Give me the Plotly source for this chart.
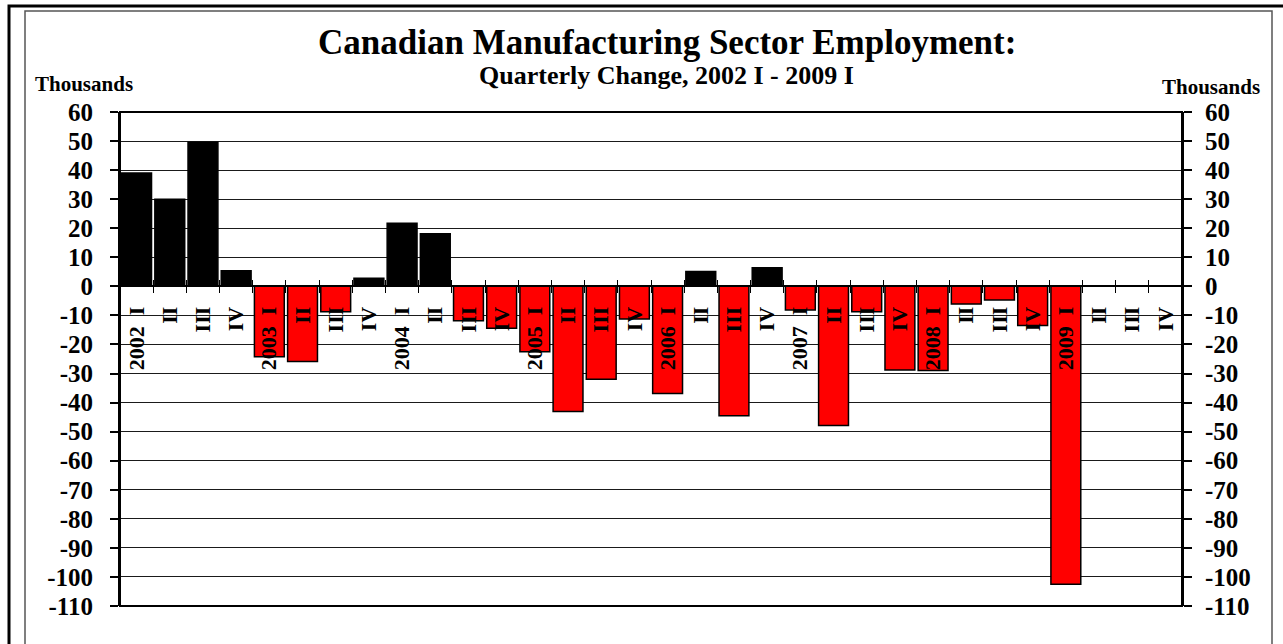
import plotly.graph_objects as go

# Quarterly change in Canadian manufacturing employment (thousands)
years = ["2002", "2003", "2004", "2005", "2006", "2007", "2008", "2009"]
numerals = ["I", "II", "III", "IV"]
changes = [
    39.0, 30.0, 49.6, 5.4,        # 2002
    -24.2, -25.9, -8.7, 2.8,      # 2003
    21.7, 18.1, -11.8, -14.4,     # 2004
    -22.5, -43.1, -32.0, -11.2,   # 2005
    -36.9, 5.1, -44.5, 6.4,       # 2006
    -8.1, -47.9, -8.7, -28.8,     # 2007
    -29.0, -6.1, -4.7, -13.5,     # 2008
    -102.5, None, None, None,     # 2009
]
y_ticks = list(range(-110, 61, 10))
y_tick_text = [str(v) for v in y_ticks]

quarters = [f"{y} {q}" for y in years for q in numerals]
# first quarter of each year carries the year, with a wider gap before the numeral
tick_labels = [f"{y}\u2002{q}" if q == "I" else q for y in years for q in numerals]
bar_colors = ["#000000" if (v is not None and v >= 0) else "#FF0000" for v in changes]

W, H = 1283, 644
L, R, T, B = 120, 101, 112, 38
PW, PH = W - L - R, H - T - B
y_min, y_max = y_ticks[0], y_ticks[-1]
zero_pos = (0 - y_min) / (y_max - y_min)

SERIF = "Liberation Serif, Times New Roman, serif"


def px(x):
    return (x - L) / PW


def py(y):
    return (H - B - y) / PH


fig = go.Figure()
fig.add_trace(go.Bar(
    x=quarters,
    y=changes,
    marker=dict(color=bar_colors, line=dict(color="#000000", width=1.5)),
    hoverinfo="x+y",
))

# Invisible helper trace so the inner tick-mark axis is drawn
fig.add_trace(go.Scatter(x=[0], y=[0], xaxis="x2", yaxis="y2",
                         mode="markers", marker=dict(opacity=0),
                         hoverinfo="skip", showlegend=False))

tickfont_y = dict(family=SERIF, size=25, color="#000000", weight="bold")

fig.update_layout(
    width=W, height=H,
    margin=dict(l=L, r=R, t=T, b=B, pad=0),
    paper_bgcolor="#FFFFFF",
    plot_bgcolor="#FFFFFF",
    showlegend=False,
    bargap=0.1,
    xaxis=dict(
        type="category",
        range=[-0.5, len(quarters) - 0.5],
        anchor="free", position=zero_pos,
        tickmode="array", tickvals=quarters, ticktext=tick_labels,
        tickson="boundaries",
        ticks="outside", ticklen=6, tickwidth=1.2, tickcolor="#000000",
        tickangle=-90,
        tickfont=dict(family=SERIF, size=22, color="#000000", weight="bold"),
        ticklabelstandoff=15,
        showline=False, showgrid=False, zeroline=False,
        fixedrange=True,
    ),
    xaxis2=dict(
        overlaying="x", anchor="free", position=zero_pos,
        range=[-0.5, len(quarters) - 0.5],
        tickmode="array",
        tickvals=[i + 0.5 for i in range(len(quarters) - 1)],
        ticks="inside", ticklen=6, tickwidth=1.2, tickcolor="#000000",
        showticklabels=False, showline=False, showgrid=False, zeroline=False,
        fixedrange=True,
    ),
    yaxis=dict(
        range=[y_min, y_max],
        tickmode="array", tickvals=y_ticks, ticktext=y_tick_text,
        ticks="outside", ticklen=8, tickwidth=1.5, tickcolor="#000000",
        tickfont=tickfont_y,
        ticklabelstandoff=12,
        showgrid=True, gridcolor="#1a1a1a", gridwidth=1.2,
        zeroline=True, zerolinecolor="#000000", zerolinewidth=2,
        showline=True, linecolor="#000000", linewidth=2,
        fixedrange=True,
    ),
    yaxis2=dict(
        overlaying="y", side="right", anchor="x",
        range=[y_min, y_max],
        tickmode="array", tickvals=y_ticks, ticktext=y_tick_text,
        ticks="outside", ticklen=8, tickwidth=1.5, tickcolor="#000000",
        tickfont=tickfont_y,
        ticklabelstandoff=8,
        showgrid=False, zeroline=False,
        showline=True, linecolor="#000000", linewidth=2,
        fixedrange=True,
    ),
)

# Plot-area border, inner panel frame and outer frame
fig.add_shape(type="rect", xref="paper", yref="paper", x0=0, x1=1, y0=0, y1=1,
              line=dict(color="#000000", width=2), layer="above")
fig.add_shape(type="path", xref="paper", yref="paper",
              path=f"M {px(25)} {py(660)} L {px(25)} {py(11)} L {px(1272)} {py(11)} L {px(1272)} {py(660)}",
              line=dict(color="#555555", width=1.5))
fig.add_shape(type="path", xref="paper", yref="paper",
              path=f"M {px(9)} {py(660)} L {px(9)} {py(6)} L {px(1300)} {py(6)}",
              line=dict(color="#000000", width=3))

fig.add_annotation(text="<b>Canadian Manufacturing Sector Employment:</b>",
                   xref="paper", yref="paper", x=px(667), y=py(42),
                   showarrow=False, xanchor="center", yanchor="middle",
                   font=dict(family=SERIF, size=35, color="#000000"))
fig.add_annotation(text="<b>Quarterly Change, 2002 I - 2009 I</b>",
                   xref="paper", yref="paper", x=px(666), y=py(76),
                   showarrow=False, xanchor="center", yanchor="middle",
                   font=dict(family=SERIF, size=26, color="#000000"))
fig.add_annotation(text="<b>Thousands</b>",
                   xref="paper", yref="paper", x=px(33), y=py(84),
                   showarrow=False, xanchor="left", yanchor="middle",
                   font=dict(family=SERIF, size=21, color="#000000"))
fig.add_annotation(text="<b>Thousands</b>",
                   xref="paper", yref="paper", x=px(1262), y=py(87),
                   showarrow=False, xanchor="right", yanchor="middle",
                   font=dict(family=SERIF, size=21, color="#000000"))

fig.write_html("out.html")
